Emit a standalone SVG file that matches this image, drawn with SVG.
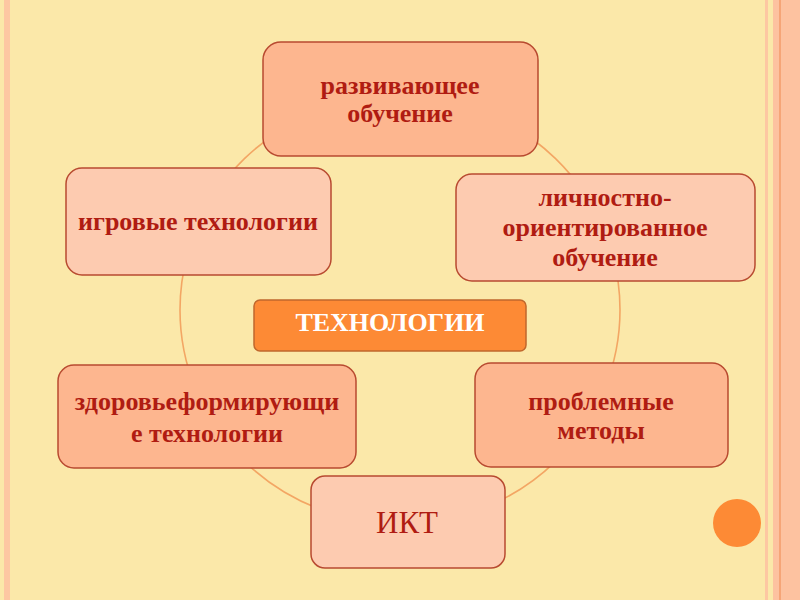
<svg xmlns="http://www.w3.org/2000/svg" width="800" height="600" viewBox="0 0 800 600">
<style>
.n rect{stroke:#b84a30;stroke-width:1.5}
.d{fill:#fdb68f}
.l{fill:#fdcbb0}
.t{font-family:"Liberation Serif","DejaVu Serif",serif;font-weight:bold;font-size:26px;fill:#b01c12;text-anchor:middle}
</style>
<rect width="800" height="600" fill="#fbe8a9"/>
<rect x="4" y="0" width="6" height="600" fill="#fdc7a2"/>
<rect x="765" y="0" width="3" height="600" fill="#fdc7a2"/>
<rect x="773" y="0" width="27" height="600" fill="#fdc2a0"/>
<rect x="779" y="0" width="2" height="600" fill="#f6a577"/>
<circle cx="737" cy="523" r="24" fill="#fd8a35"/>
<g id="connectors">
<ellipse cx="400" cy="310" rx="220" ry="214" fill="none" stroke="#f3a664" stroke-width="1.6"/>
</g>
<g id="n1" class="n"><rect class="d" x="263" y="42" width="275" height="114" rx="18"/><text class="t" x="400" y="94">развивающее</text><text class="t" x="400" y="122">обучение</text></g>
<g id="n2" class="n"><rect class="l" x="66" y="168" width="265" height="107" rx="16"/><text class="t" x="198" y="230">игровые технологии</text></g>
<g id="n3" class="n"><rect class="l" x="456" y="174" width="299" height="107" rx="16"/><text class="t" x="605" y="206">личностно-</text><text class="t" x="605" y="236">ориентированное</text><text class="t" x="605" y="266">обучение</text></g>
<g id="center"><rect x="254" y="300" width="272" height="51" rx="6" fill="#fd8a35" stroke="#c0672c" stroke-width="1.5"/><text x="390" y="331" font-family="Liberation Serif,serif" font-weight="bold" font-size="26" fill="#fff" text-anchor="middle">ТЕХНОЛОГИИ</text></g>
<g id="n4" class="n"><rect class="d" x="58" y="365" width="298" height="103" rx="16"/><text class="t" x="207" y="410">здоровьеформирующи</text><text class="t" x="207" y="442">е технологии</text></g>
<g id="n5" class="n"><rect class="d" x="475" y="363" width="253" height="104" rx="16"/><text class="t" x="601" y="410">проблемные</text><text class="t" x="601" y="439">методы</text></g>
<g id="n6" class="n"><rect class="l" x="311" y="476" width="194" height="92" rx="14"/><text x="407" y="533" font-family="Liberation Serif,serif" font-size="31" fill="#b01c12" text-anchor="middle">ИКТ</text></g>
</svg>
